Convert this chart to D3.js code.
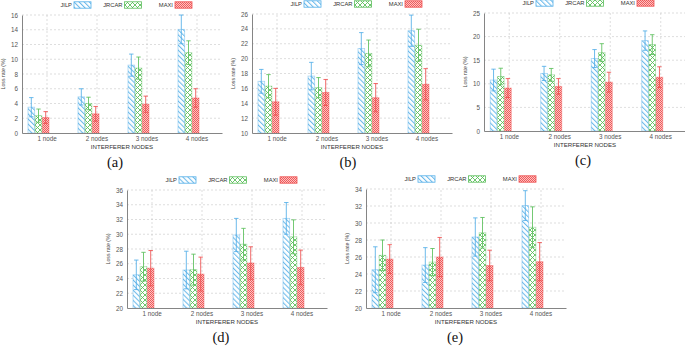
<!DOCTYPE html>
<html>
<head>
<meta charset="utf-8">
<script src="https://cdn.jsdelivr.net/npm/d3@7"></script>
<style>
  body { margin: 0; background: #fff; }
  svg { display: block; font-family: "Liberation Sans", Arial, sans-serif; }
</style>
</head>
<body>
<script>
// categories and series
const categories = ['1 node', '2 nodes', '3 nodes', '4 nodes'];
const seriesNames = ['JILP', 'JRCAR', 'MAXI'];
const captions = ['(a)', '(b)', '(c)', '(d)', '(e)'];

// y tick labels per panel
const yTicksA = [0, 2, 4, 6, 8, 10, 12, 14, 16];
const yTicksB = [10, 12, 14, 16, 18, 20, 22, 24, 26];
const yTicksC = [0, 5, 10, 15, 20, 25];
const yTicksD = [20, 22, 24, 26, 28, 30, 32, 34, 36];
const yTicksE = [20, 22, 24, 26, 28, 30, 32, 34];

// loss rate (%), rows = JILP, JRCAR, MAXI
const lossA = [[3.5, 4.9, 9.2, 14.05], [2.35, 4.0, 8.8, 10.9], [2.1, 2.6, 3.9, 4.75]];
const errA  = [[1.3, 1.1, 1.5, 1.95], [0.9, 0.85, 1.5, 1.6], [0.8, 1.0, 1.1, 1.25]];

const lossB = [[16.95, 17.65, 21.35, 23.75], [16.3, 16.1, 20.7, 21.8], [14.2, 15.45, 14.75, 16.55]];
const errB  = [[1.6, 1.85, 2.15, 2.1], [1.55, 1.35, 1.8, 2.15], [1.8, 1.75, 1.9, 2.1]];

const lossC = [[10.8, 12.2, 15.35, 19.15], [11.55, 11.9, 16.6, 18.3], [9.1, 9.45, 10.35, 11.4]];
const errC  = [[2.3, 1.5, 1.9, 2.05], [1.75, 1.35, 1.9, 2.1], [2.0, 1.65, 2.1, 2.2]];

const lossD = [[24.5, 25.15, 29.9, 32.15], [25.6, 25.2, 28.65, 29.65], [25.4, 24.6, 26.1, 25.5]];
const errD  = [[2.0, 2.55, 2.25, 2.15], [1.95, 2.1, 2.15, 2.3], [2.4, 2.3, 2.2, 2.35]];

const lossE = [[24.5, 25.05, 28.35, 32.05], [26.2, 25.4, 28.85, 29.5], [25.75, 26.0, 25.0, 25.45]];
const errE  = [[2.7, 2.05, 2.25, 1.75], [1.8, 1.6, 1.8, 2.4], [1.7, 2.3, 1.8, 2.25]];

const colors = ['#52aee8', '#5cbf5c', '#ef5050'];
const fills = ['url(#hatchJ)', 'url(#crossR)', 'url(#checkM)'];

// panel frames
const panels = [
  {cap: captions[0], ticks: yTicksA, loss: lossA, err: errA, left: 22,  right: 222, top: 15,  bottom: 133, capX: 115},
  {cap: captions[1], ticks: yTicksB, loss: lossB, err: errB, left: 252, right: 452, top: 14,  bottom: 133, capX: 348},
  {cap: captions[2], ticks: yTicksC, loss: lossC, err: errC, left: 484, right: 686, top: 13,  bottom: 131, capX: 583},
  {cap: captions[3], ticks: yTicksD, loss: lossD, err: errD, left: 127, right: 327, top: 190, bottom: 308, capX: 221},
  {cap: captions[4], ticks: yTicksE, loss: lossE, err: errE, left: 366, right: 566, top: 189, bottom: 308, capX: 455}
];

let svg = d3.select('body').append('svg')
            .attr('width', 685)
            .attr('height', 347);

// patterns
let defs = svg.append('defs');

let pJ = defs.append('pattern').attr('id', 'hatchJ')
             .attr('patternUnits', 'userSpaceOnUse')
             .attr('width', 3.6).attr('height', 3.6)
             .attr('patternTransform', 'rotate(-45)');
pJ.append('rect').attr('width', 3.6).attr('height', 3.6).attr('fill', '#fff');
pJ.append('line').attr('x1', 0.6).attr('y1', 0).attr('x2', 0.6).attr('y2', 3.6)
  .attr('stroke', colors[0]).attr('stroke-width', 0.9);

let pR = defs.append('pattern').attr('id', 'crossR')
             .attr('patternUnits', 'userSpaceOnUse')
             .attr('width', 5).attr('height', 5);
pR.append('rect').attr('width', 5).attr('height', 5).attr('fill', '#fff');
pR.append('path').attr('d', 'M0,0L5,5M5,0L0,5')
  .attr('stroke', colors[1]).attr('stroke-width', 0.9).attr('fill', 'none');

let pM = defs.append('pattern').attr('id', 'checkM')
             .attr('patternUnits', 'userSpaceOnUse')
             .attr('width', 2).attr('height', 2);
pM.append('rect').attr('width', 2).attr('height', 2).attr('fill', '#fbc4c4');
pM.append('rect').attr('width', 1).attr('height', 1).attr('fill', '#f05a5a');
pM.append('rect').attr('x', 1).attr('y', 1).attr('width', 1).attr('height', 1).attr('fill', '#f05a5a');


let drawPanel = function(p, k){
  let g = svg.append('g').attr('id', 'panel' + k);

  let x0 = d3.scaleBand().domain(categories).range([p.left, p.right]);
  let x1 = d3.scaleBand().domain(seriesNames).range([0, 21]).paddingInner(0.08);
  let y = d3.scaleLinear().domain(d3.extent(p.ticks)).range([p.bottom, p.top]);
  let cx = d => x0(d) + x0.bandwidth() / 2;

  g.append('clipPath').attr('id', 'clip' + k)
   .append('rect').attr('x', p.left).attr('y', p.top - 5)
   .attr('width', p.right - p.left).attr('height', p.bottom - p.top + 5);

  // grid
  g.append('g').selectAll('line').data(p.ticks.slice(1)).join('line')
   .attr('x1', p.left).attr('x2', p.right)
   .attr('y1', d => y(d)).attr('y2', d => y(d))
   .attr('stroke', '#c8c8c8').attr('stroke-width', 0.6).attr('stroke-dasharray', '2,2');
  g.append('g').selectAll('line').data(categories).join('line')
   .attr('x1', cx).attr('x2', cx)
   .attr('y1', p.bottom).attr('y2', p.top)
   .attr('stroke', '#c8c8c8').attr('stroke-width', 0.6).attr('stroke-dasharray', '2,2');

  // axes
  let yAxis = g.append('g').attr('transform', `translate(${p.left},0)`)
               .call(d3.axisLeft(y).tickValues(p.ticks).tickSize(0).tickPadding(4));
  let xAxis = g.append('g').attr('transform', `translate(0,${p.bottom})`)
               .call(d3.axisBottom(x0).tickSize(0).tickPadding(4));
  [yAxis, xAxis].forEach(a => {
    a.select('.domain').attr('stroke', '#777').attr('stroke-width', 0.9);
    a.selectAll('text').attr('font-size', 6.3).attr('fill', '#555')
     .attr('font-family', '"Liberation Sans", Arial, sans-serif');
  });

  // bars
  let bars = g.append('g').attr('clip-path', `url(#clip${k})`);
  seriesNames.forEach((s, i) => {
    let rows = categories.map((c, j) => ({c: c, v: p.loss[i][j], e: p.err[i][j]}));
    bars.append('g').selectAll('rect').data(rows).join('rect')
        .attr('x', d => cx(d.c) - 19 + x1(s))
        .attr('y', d => y(d.v))
        .attr('width', x1.bandwidth())
        .attr('height', d => p.bottom - y(d.v))
        .attr('fill', fills[i])
        .attr('stroke', colors[i]).attr('stroke-opacity', 0.45).attr('stroke-width', 0.9);

    let eg = bars.append('g').attr('stroke', colors[i]).attr('stroke-width', 1)
                 .attr('stroke-opacity', 0.85).attr('fill', 'none');
    eg.selectAll('path').data(rows).join('path')
      .attr('d', d => {
        let xm = cx(d.c) - 19 + x1(s) + x1.bandwidth() / 2;
        let yt = y(d.v + d.e), yb = y(d.v - d.e);
        return `M${xm},${yb}V${yt}M${xm - 2.2},${yt}H${xm + 2.2}M${xm - 2.2},${yb}H${xm + 2.2}`;
      });
  });

  // y label
  g.append('text')
   .attr('transform', `translate(${p.left - 17},${(p.top + p.bottom) / 2}) rotate(-90)`)
   .attr('text-anchor', 'middle').attr('font-size', 5.2).attr('fill', '#444')
   .text('Loss rate (%)');

  // x title
  g.append('text')
   .attr('x', (p.left + p.right) / 2).attr('y', p.bottom + 16.3)
   .attr('text-anchor', 'middle').attr('font-size', 6.1).attr('fill', '#333')
   .text('INTERFERER NODES');

  // legend
  let lg = g.append('g');
  seriesNames.forEach((s, i) => {
    let sx = p.left + 52 + i * 50.5;
    let sy = p.top - 10;
    lg.append('rect').attr('x', sx).attr('y', sy - 3.2).attr('width', 17).attr('height', 6.4)
      .attr('fill', fills[i]).attr('stroke', colors[i]).attr('stroke-width', 0.8);
    lg.append('text').attr('x', sx - 2).attr('y', sy + 2.1)
      .attr('text-anchor', 'end').attr('font-size', 5.8).attr('fill', '#333').text(s);
  });

  // caption
  g.append('text')
   .attr('x', p.capX).attr('y', p.bottom + 33.5)
   .attr('text-anchor', 'middle').attr('font-size', 14.5).attr('fill', '#111')
   .attr('font-family', '"Liberation Serif", "Times New Roman", serif')
   .text(p.cap);
};

panels.forEach(drawPanel);
</script>
</body>
</html>
